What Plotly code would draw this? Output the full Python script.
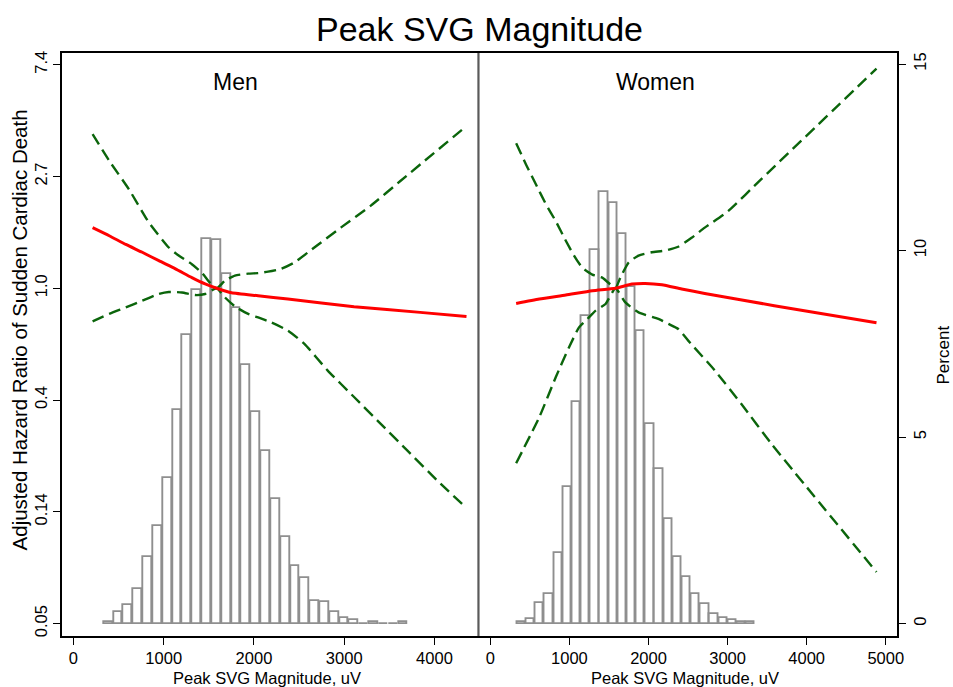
import numpy as np
import plotly.graph_objects as go

# ---- Histogram of Peak SVG magnitude (percent of subjects per bin) ----
MEN_BIN_START, MEN_BIN_WIDTH = 333, 108.9
MEN_PCT = [0.05, 0.31, 0.49, 0.92, 1.78, 2.62, 3.91, 5.72, 7.74, 8.95, 10.31,
           10.27, 9.38, 8.46, 6.92, 5.67, 4.62, 3.34, 2.32, 1.54, 1.23, 0.60,
           0.58, 0.32, 0.16, 0.09, 0.0, 0.05, 0.0, 0.0, 0.03]
WOMEN_BIN_START, WOMEN_BIN_WIDTH = 335, 116.0
WOMEN_PCT = [0.05, 0.11, 0.54, 0.79, 1.89, 3.67, 5.93, 8.24, 10.01, 11.58,
             11.28, 10.44, 9.01, 7.83, 5.36, 4.14, 2.79, 1.79, 1.24, 0.78,
             0.51, 0.26, 0.15, 0.09, 0.03, 0.05]

# ---- Spline hazard ratio estimates with 95% CI ----
MEN_HR_X = [212, 396, 580, 762, 946, 1130, 1312, 1459, 1587, 1752, 2046, 2376,
            3109, 3842, 4355]
MEN_HR = [1.72, 1.60, 1.48, 1.38, 1.28, 1.19, 1.10, 1.04, 1.00, 0.96, 0.935,
          0.908, 0.848, 0.806, 0.776]
MEN_UP_X = [212, 396, 616, 836, 1056, 1166, 1312, 1422, 1514,
            1587, 1679, 1789, 1936, 2046, 2156, 2302, 2449, 2669, 2962, 3292,
            3622, 4355]
MEN_UP = [3.97, 3.13, 2.42, 1.80, 1.44, 1.34, 1.24, 1.15,
          1.05, 1.00, 1.07, 1.12, 1.14, 1.145, 1.16, 1.19, 1.26, 1.44, 1.72,
          2.09, 2.61, 4.27]
MEN_LO_X = [212, 396, 580, 762, 946, 1056, 1202, 1349, 1459, 1587, 1679, 1789,
            1936, 2046, 2192, 2376, 2559, 2815, 3109, 3402, 3695, 4025, 4355]
MEN_LO = [0.744, 0.795, 0.843, 0.895, 0.95, 0.967, 0.963, 0.941, 0.95, 1.00,
          0.921, 0.85, 0.795, 0.77, 0.737, 0.685, 0.608, 0.480, 0.378, 0.298,
          0.235, 0.180, 0.140]

WOMEN_HR_X = [326, 619, 954, 1289, 1582, 1791, 1958, 2168, 2419, 2711, 3590,
              4883]
WOMEN_HR = [0.873, 0.908, 0.941, 0.978, 1.00, 1.038, 1.044, 1.032, 0.993,
            0.955, 0.856, 0.735]
WOMEN_UP_X = [326, 452, 577, 703, 828, 954, 1058, 1164, 1289, 1415, 1540, 1582,
              1644, 1749, 1874, 2042, 2209, 2376, 2545, 2711, 3004, 3423, 4883]
WOMEN_UP = [3.66, 3.02, 2.53, 2.12, 1.82, 1.53, 1.34, 1.20, 1.13, 1.10, 1.02,
            1.00, 1.10, 1.26, 1.34, 1.38, 1.40, 1.45, 1.57, 1.72, 1.99, 2.65,
            7.13]
WOMEN_LO_X = [326, 619, 828, 995, 1121, 1205, 1289, 1331, 1456, 1582, 1707,
              1874, 2125, 2251, 2376, 2502, 2837, 3172, 3549, 4883]
WOMEN_LO = [0.209, 0.316, 0.452, 0.590, 0.705, 0.748, 0.795, 0.819, 0.869,
            1.00, 0.881, 0.806, 0.760, 0.727, 0.695, 0.626, 0.480, 0.356,
            0.250, 0.079]

REF_HR = 1.0

# ---- Axis ticks ----
HR_TICKVALS = [float(np.exp(k)) for k in range(-3, 3)]
HR_TICKTEXT = ["0.05", "0.14", "0.4", "1.0", "2.7", "7.4"]
PCT_TICKS = [0, 5, 10, 15]
MEN_XTICKS = [0, 1000, 2000, 3000, 4000]
WOMEN_XTICKS = [0, 1000, 2000, 3000, 4000, 5000]

TITLE = "Peak SVG Magnitude"
PANELS = ["Men", "Women"]
X_TITLE = "Peak SVG Magnitude, uV"
Y_TITLE = "Adjusted Hazard Ratio of Sudden Cardiac Death"
Y2_TITLE = "Percent"

FONT = "Liberation Sans, Arial, sans-serif"
W, H = 953, 687
RED = "#ff0000"
GREEN = "#0b650b"
REFCOL = "#d4365c"
BARLINE = "#8f8f8f"


def px(v, total):
    return v / total


L, MID, R = px(62.7, W), px(482, W), px(903.7, W)
BOT, TOP = 1 - px(636.7, H), 1 - px(51.3, H)

fig = go.Figure()


def add_hist(start, width, pct, xa, ya):
    centers = start + width * (np.arange(len(pct)) + 0.5)
    fig.add_trace(go.Bar(
        x=centers, y=pct, width=width * 0.9,
        marker=dict(color="rgba(255,255,255,0)",
                    line=dict(color=BARLINE, width=1.9)),
        xaxis=xa, yaxis=ya, showlegend=False, hoverinfo="skip"))


def add_curves(xs_ys, xa, ya):
    for (xs, ys, kind) in xs_ys:
        if kind == "est":
            line = dict(color=RED, width=3, shape="spline", smoothing=0.5)
        else:
            line = dict(color=GREEN, width=2.4, dash="12px,6px",
                        shape="spline", smoothing=0.5)
        fig.add_trace(go.Scatter(x=xs, y=ys, mode="lines", line=line,
                                 xaxis=xa, yaxis=ya, showlegend=False,
                                 hoverinfo="skip"))


add_hist(MEN_BIN_START, MEN_BIN_WIDTH, MEN_PCT, "x", "y")
add_hist(WOMEN_BIN_START, WOMEN_BIN_WIDTH, WOMEN_PCT, "x2", "y3")

add_curves([(MEN_UP_X, MEN_UP, "ci"), (MEN_LO_X, MEN_LO, "ci"),
            (MEN_HR_X, MEN_HR, "est")], "x", "y2")
add_curves([(WOMEN_UP_X, WOMEN_UP, "ci"), (WOMEN_LO_X, WOMEN_LO, "ci"),
            (WOMEN_HR_X, WOMEN_HR, "est")], "x2", "y4")

pct_range = [-0.331, 15.293]
hr_range = [np.log10(np.exp(-3.110)), np.log10(np.exp(2.104))]

tickfont = dict(family=FONT, size=16.5, color="black")
common_x = dict(showline=True, linecolor="black", linewidth=1.5, mirror=True,
                ticks="outside", ticklen=7, tickwidth=1.3, tickcolor="black",
                showgrid=False, zeroline=False, tickfont=tickfont)

fig.update_layout(
    width=W, height=H,
    margin=dict(l=0, r=0, t=0, b=0),
    paper_bgcolor="white", plot_bgcolor="white",
    bargap=0,
    xaxis=dict(domain=[L, MID], range=[-124.3, 4487.5], anchor="y",
               tickvals=MEN_XTICKS, **common_x),
    xaxis2=dict(domain=[MID, R], range=[-150.6, 5143], anchor="y3",
                tickvals=WOMEN_XTICKS, **common_x),
    yaxis=dict(domain=[BOT, TOP], range=pct_range, anchor="x",
               visible=False, showgrid=False, zeroline=False),
    yaxis2=dict(type="log", range=hr_range, overlaying="y", anchor="x",
                side="left", showline=True, linecolor="black", linewidth=1.5,
                ticks="outside", ticklen=7, tickwidth=1.3, tickcolor="black",
                tickvals=HR_TICKVALS, ticktext=HR_TICKTEXT, tickangle=-90,
                tickfont=tickfont, showgrid=False, zeroline=False),
    yaxis3=dict(domain=[BOT, TOP], range=pct_range, anchor="x2", side="right",
                showline=True, linecolor="black", linewidth=1.5,
                ticks="outside", ticklen=7, tickwidth=1.3, tickcolor="black",
                tickvals=PCT_TICKS, tickangle=-90, tickfont=tickfont,
                showgrid=False, zeroline=False),
    yaxis4=dict(type="log", range=hr_range, overlaying="y3", anchor="x2",
                visible=False, showgrid=False, zeroline=False),
)

# Reference line at HR = 1 across both panels
for xref, yref in (("x domain", "y2"), ("x2 domain", "y4")):
    fig.add_shape(type="line", xref=xref, yref=yref, x0=0, x1=1,
                  y0=np.log10(REF_HR), y1=np.log10(REF_HR),
                  line=dict(color=REFCOL, width=2, dash="22px,8px"))

# Panel divider
fig.add_shape(type="line", xref="paper", yref="paper", x0=MID, x1=MID,
              y0=BOT, y1=TOP, line=dict(color="#5a5a5a", width=2.2))


def label(text, x, y, size, angle=0):
    return dict(text=text, x=px(x, W), y=1 - px(y, H), xref="paper",
                yref="paper", showarrow=False, xanchor="center",
                yanchor="middle", textangle=angle,
                font=dict(family=FONT, size=size, color="black"))


ann = [label(TITLE, 483, 27, 34)]
for name, cx in zip(PANELS, [237, 660]):
    ann.append(label(name, cx, 80, 23))
for cx in [269, 690]:
    ann.append(label(X_TITLE, cx, 678.5, 16.5))
ann.append(label(Y_TITLE, 20, 329, 20.5, -90))
ann.append(label(Y2_TITLE, 950, 355, 17, -90))
fig.update_layout(annotations=ann)

fig.write_html("out.html")
